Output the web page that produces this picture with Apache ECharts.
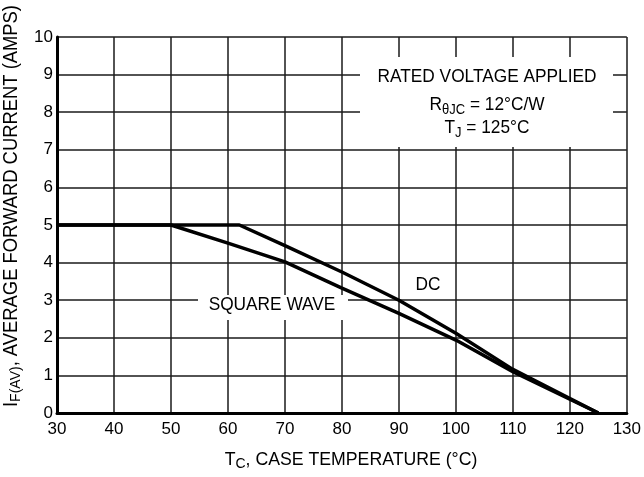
<!DOCTYPE html>
<html>
<head>
<meta charset="utf-8">
<script src="https://cdn.jsdelivr.net/npm/echarts@6/dist/echarts.min.js"></script>
<style>html,body{margin:0;padding:0;background:#fff}#c{width:644px;height:477px}</style>
</head>
<body>
<div id="c"></div>
<script>
// Data
const xTicks = [30, 40, 50, 60, 70, 80, 90, 100, 110, 120, 130];
const yTicks = [0, 1, 2, 3, 4, 5, 6, 7, 8, 9, 10];
const squareTemps = [30, 50, 60, 70, 80, 90, 100, 110, 125];
const squareCurrent = [5, 5, 4.52, 4.02, 3.32, 2.65, 1.94, 1.1, 0];
const dcTemps = [30, 62, 70, 80, 90, 100, 110, 125];
const dcCurrent = [5, 5, 4.45, 3.75, 3.0, 2.12, 1.16, 0];

const FONT = '"Liberation Sans", Arial, Helvetica, sans-serif';
const chart = echarts.init(document.getElementById('c'), null, {renderer: 'canvas'});

function pairs(xs, ys) { return xs.map((x, i) => [x, ys[i]]); }
function rich(text, fs) {
  return {text: text, align: 'center', verticalAlign: 'middle',
    rich: {b: {fontFamily: FONT, fontSize: fs, lineHeight: 22, fill: '#000'},
           s: {fontFamily: FONT, fontSize: Math.round(fs * 0.78), lineHeight: 10, verticalAlign: 'bottom', fill: '#000'}}};
}

const gridColor = '#1a1a1a';
const option = {
  backgroundColor: '#fff',
  animation: false,
  grid: {left: 57, top: 37, right: 11, bottom: 64, containLabel: false},
  xAxis: {
    type: 'value', min: xTicks[0], max: xTicks[xTicks.length - 1], interval: 10,
    axisLine: {show: true, lineStyle: {color: '#000', width: 3}},
    axisTick: {show: false},
    axisLabel: {color: '#000', fontFamily: FONT, fontSize: 17, margin: 8},
    splitLine: {show: true, lineStyle: {color: gridColor, width: 1.5}}
  },
  yAxis: {
    type: 'value', min: yTicks[0], max: yTicks[yTicks.length - 1], interval: 1,
    axisLine: {show: true, lineStyle: {color: '#000', width: 3}},
    axisTick: {show: false},
    axisLabel: {color: '#000', fontFamily: FONT, fontSize: 17, margin: 4},
    splitLine: {show: true, lineStyle: {color: gridColor, width: 1.5}}
  },
  series: [
    {type: 'line', name: 'SQUARE WAVE', data: pairs(squareTemps, squareCurrent), symbol: 'none',
     lineStyle: {color: '#000', width: 3.5}, z: 5},
    {type: 'line', name: 'DC', data: pairs(dcTemps, dcCurrent), symbol: 'none',
     lineStyle: {color: '#000', width: 3.5}, z: 5}
  ],
  graphic: [
    {type: 'text', x: 12, y: 206, rotation: Math.PI / 2, scaleY: 1.08, z: 10,
     style: rich('{b|I}{s|F(AV)}{b|, AVERAGE FORWARD CURRENT (AMPS)}', 18.4)},
    {type: 'text', x: 351, y: 460, scaleY: 1.08, z: 10,
     style: rich('{b|T}{s|C}{b|, CASE TEMPERATURE (°C)}', 17.7)},
    {type: 'rect', shape: {x: 360, y: 57, width: 253, height: 90}, style: {fill: '#fff'}, z: 8},
    {type: 'text', x: 487, y: 77, scaleY: 1.08, z: 10, style: rich('{b|RATED VOLTAGE APPLIED}', 17.3)},
    {type: 'text', x: 487, y: 105, scaleY: 1.08, z: 10, style: rich('{b|R}{s|θJC}{b| = 12°C/W}', 17.3)},
    {type: 'text', x: 487, y: 128, scaleY: 1.08, z: 10, style: rich('{b|T}{s|J}{b| = 125°C}', 17.3)},
    {type: 'rect', shape: {x: 198, y: 295, width: 150, height: 25}, style: {fill: '#fff'}, z: 8},
    {type: 'text', x: 272, y: 305, scaleY: 1.08, z: 10, style: rich('{b|SQUARE WAVE}', 17.3)},
    {type: 'text', x: 428, y: 285, scaleY: 1.08, z: 10, style: rich('{b|DC}', 17.3)}
  ]
};
chart.setOption(option);
</script>
</body>
</html>
